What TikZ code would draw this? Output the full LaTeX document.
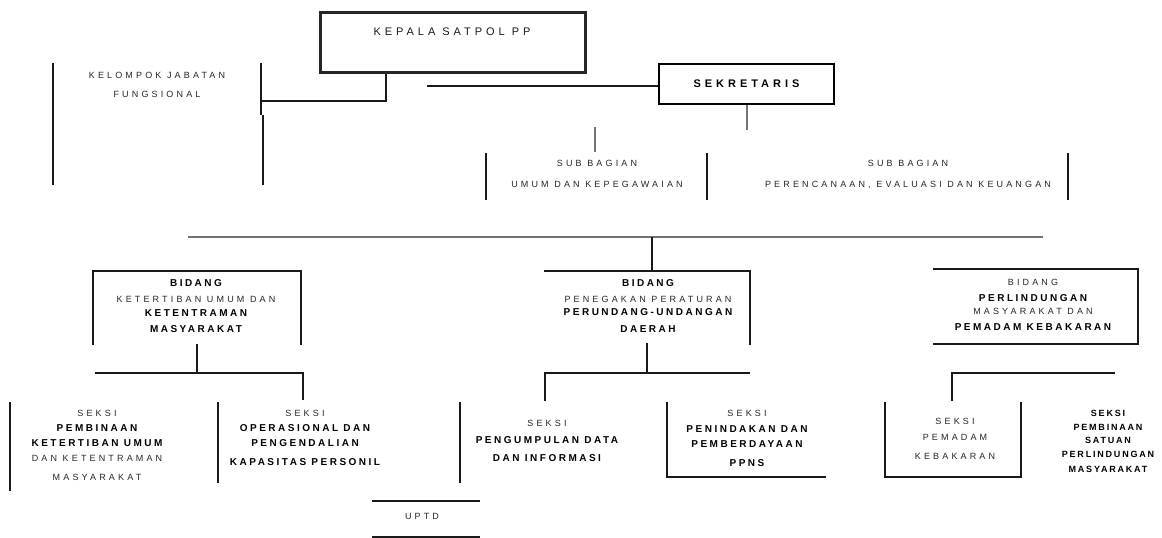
\documentclass[tikz,border=0pt]{standalone}
\usepackage{fontspec}
\setmainfont{Liberation Sans}
\newfontfamily\fsmall[LetterSpace=35]{Liberation Sans}
\newfontfamily\fbold[LetterSpace=25]{Liberation Sans}
\newfontfamily\fbtwo[LetterSpace=20]{Liberation Sans}
\newfontfamily\fkep[LetterSpace=36]{Liberation Sans}
\newfontfamily\fsek[LetterSpace=36]{Liberation Sans}
\begin{document}
\begin{tikzpicture}[x=1pt,y=-1pt,
  sm/.style={inner sep=0pt, text=black!85, text height=6.4pt, text depth=0pt, font=\fsmall\fontsize{9}{11}\selectfont},
  bd/.style={inner sep=0pt, text=black, text height=7.2pt, text depth=0pt, font=\fbold\bfseries\fontsize{10}{12}\selectfont},
  bdtwo/.style={inner sep=0pt, text=black, text height=6.5pt, text depth=0pt, font=\fbtwo\bfseries\fontsize{9}{11}\selectfont},
  kp/.style={inner sep=0pt, text=black!90, text height=7.9pt, text depth=0pt, font=\fkep\fontsize{11}{13}\selectfont},
  kbox/.style={draw=black!85, line width=3pt, inner sep=0pt},
  sbox/.style={draw=black, line width=2pt, inner sep=0pt, text height=7.9pt, text depth=0pt, font=\fsek\bfseries\fontsize{11}{13}\selectfont},
  ln/.style={draw=black!90, line width=1.8pt},
  gl/.style={draw=black!55, line width=1.5pt},
]
\path[use as bounding box, fill=white] (0,0) rectangle (1162,538);

% ---------- top ----------
\node[kbox, minimum width=265pt, minimum height=60pt] (kepala) at (452.5,42) {};
\node[kp] (kepT) at (452,32) {KEPALA SATPOL PP};
\node[sbox, minimum width=175pt, minimum height=40pt] (sek) at (746.5,84) {SEKRETARIS};

\node[sm] (kj1) at (157,75) {KELOMPOK JABATAN};
\node[sm] (kj2) at (157,94) {FUNGSIONAL};

\coordinate (kjLt) at (53,63);  \coordinate (kjLb) at (53,185);
\coordinate (kjRt) at (261,63); \coordinate (kjRm) at (261,115);
\coordinate (kjRn) at (263,115); \coordinate (kjRb) at (263,185);
\draw[ln] (kjLt) -- (kjLb);
\draw[ln] (kjRt) -- (kjRm);
\draw[ln] (kjRn) -- (kjRb);
\coordinate (kd) at (386,101);
\draw[ln] (kepala.south -| kd) -- (kd) -- (kd -| kjRt);

\coordinate (sekL) at (427,86);
\draw[ln] (sekL) -- (sekL -| sek.west);

\coordinate (sekD) at (747,130);
\draw[gl] (sek.south -| sekD) -- (sekD);
\coordinate (sbU) at (595,127); \coordinate (sbD) at (595,152);
\draw[gl] (sbU) -- (sbD);

\coordinate (v1t) at (486,153); \coordinate (v1b) at (486,200);
\coordinate (v2t) at (707,153); \coordinate (v2b) at (707,200);
\coordinate (v3t) at (1068,153); \coordinate (v3b) at (1068,200);
\draw[ln] (v1t) -- (v1b);
\draw[ln] (v2t) -- (v2b);
\draw[ln] (v3t) -- (v3b);

\node[sm] (sb1a) at (597,163) {SUB BAGIAN};
\node[sm] (sb1b) at (597,184) {UMUM DAN KEPEGAWAIAN};
\node[sm] (sb2a) at (908,163) {SUB BAGIAN};
\node[sm] (sb2b) at (908,184) {PERENCANAAN, EVALUASI DAN KEUANGAN};

% ---------- middle ----------
\coordinate (hL) at (188,237); \coordinate (hR) at (1043,237);
\draw[gl] (hL) -- (hR);
\coordinate (hM) at (652,237); \coordinate (hMb) at (652,271);
\draw[ln] (hM) -- (hMb);

% Bidang A
\coordinate (bAbl) at (93,345); \coordinate (bAtl) at (93,271);
\coordinate (bAtr) at (301,271); \coordinate (bAbr) at (301,345);
\draw[ln] (bAbl) -- (bAtl) -- (bAtr) -- (bAbr);
\node[bd] (bA1) at (196,283) {BIDANG};
\node[sm] (bA2) at (196,299) {KETERTIBAN UMUM DAN};
\node[bd] (bA3) at (196,313) {KETENTRAMAN};
\node[bd] (bA4) at (196,329) {MASYARAKAT};
\coordinate (cAt) at (197,344); \coordinate (cAm) at (197,373);
\coordinate (cAl) at (95,373); \coordinate (cAr) at (303,373);
\coordinate (cArb) at (303,400);
\draw[ln] (cAt) -- (cAm);
\draw[ln] (cAl) -- (cAr) -- (cArb);

% Bidang B
\coordinate (bBtl) at (544,271); \coordinate (bBtr) at (750,271);
\coordinate (bBbr) at (750,345);
\draw[ln] (bBtl) -- (bBtr) -- (bBbr);
\node[bd] (bB1) at (648,283) {BIDANG};
\node[sm] (bB2) at (648,299) {PENEGAKAN PERATURAN};
\node[bd] (bB3) at (648,312) {PERUNDANG-UNDANGAN};
\node[bd] (bB4) at (648,329) {DAERAH};
\coordinate (cBt) at (647,343); \coordinate (cBm) at (647,373);
\coordinate (cBl) at (545,373); \coordinate (cBr) at (750,373);
\coordinate (cBlb) at (545,401);
\draw[ln] (cBt) -- (cBm);
\draw[ln] (cBlb) -- (cBl) -- (cBr);

% Bidang C
\coordinate (bCtl) at (933,269); \coordinate (bCtr) at (1138,269);
\coordinate (bCbr) at (1138,344); \coordinate (bCbl) at (933,344);
\draw[ln] (bCtl) -- (bCtr) -- (bCbr) -- (bCbl);
\node[sm] (bC1) at (1033,282) {BIDANG};
\node[bd] (bC2) at (1033,298) {PERLINDUNGAN};
\node[sm] (bC3) at (1033,311) {MASYARAKAT DAN};
\node[bd] (bC4) at (1033,327) {PEMADAM KEBAKARAN};
\coordinate (cCl) at (952,373); \coordinate (cCr) at (1115,373);
\coordinate (cClb) at (952,401);
\draw[ln] (cClb) -- (cCl) -- (cCr);

% ---------- bottom ----------
\coordinate (sAt) at (10,402); \coordinate (sAb) at (10,491);
\draw[ln] (sAt) -- (sAb);
\node[sm] (sA1) at (97,413) {SEKSI};
\node[bd] (sA2) at (97,428) {PEMBINAAN};
\node[bd] (sA3) at (97,443) {KETERTIBAN UMUM};
\node[sm] (sA4) at (97,458) {DAN KETENTRAMAN};
\node[sm] (sA5) at (97,477) {MASYARAKAT};

\coordinate (sBt) at (218,402); \coordinate (sBb) at (218,483);
\draw[ln] (sBt) -- (sBb);
\node[sm] (sB1) at (305,413) {SEKSI};
\node[bd] (sB2) at (305,428) {OPERASIONAL DAN};
\node[bd] (sB3) at (305,443) {PENGENDALIAN};
\node[bd] (sB4) at (305,462) {KAPASITAS PERSONIL};

\coordinate (uTl) at (372,501); \coordinate (uTr) at (480,501);
\coordinate (uBl) at (372,537); \coordinate (uBr) at (480,537);
\draw[ln] (uTl) -- (uTr);
\draw[ln] (uBl) -- (uBr);
\node[sm] (up) at (422,516) {UPTD};

\coordinate (sCt) at (460,402); \coordinate (sCb) at (460,483);
\draw[ln] (sCt) -- (sCb);
\node[sm] (sC1) at (547,423) {SEKSI};
\node[bd] (sC2) at (547,440) {PENGUMPULAN DATA};
\node[bd] (sC3) at (547,458) {DAN INFORMASI};

\coordinate (sDt) at (667,402); \coordinate (sDb) at (667,477);
\coordinate (sDr) at (826,477);
\draw[ln] (sDt) -- (sDb) -- (sDr);
\node[sm] (sD1) at (747,413) {SEKSI};
\node[bd] (sD2) at (747,429) {PENINDAKAN DAN};
\node[bd] (sD3) at (747,444) {PEMBERDAYAAN};
\node[bd] (sD4) at (747,463) {PPNS};

\coordinate (sEtl) at (885,402); \coordinate (sEbl) at (885,477);
\coordinate (sEbr) at (1021,477); \coordinate (sEtr) at (1021,402);
\draw[ln] (sEtl) -- (sEbl) -- (sEbr) -- (sEtr);
\node[sm] (sE1) at (955,421) {SEKSI};
\node[sm] (sE2) at (955,437) {PEMADAM};
\node[sm] (sE3) at (955,456) {KEBAKARAN};

\node[bdtwo] (sF1) at (1108,413) {SEKSI};
\node[bdtwo] (sF2) at (1108,427) {PEMBINAAN};
\node[bdtwo] (sF3) at (1108,440) {SATUAN};
\node[bdtwo] (sF4) at (1108,454) {PERLINDUNGAN};
\node[bdtwo] (sF5) at (1108,469) {MASYARAKAT};
\end{tikzpicture}
\end{document}
